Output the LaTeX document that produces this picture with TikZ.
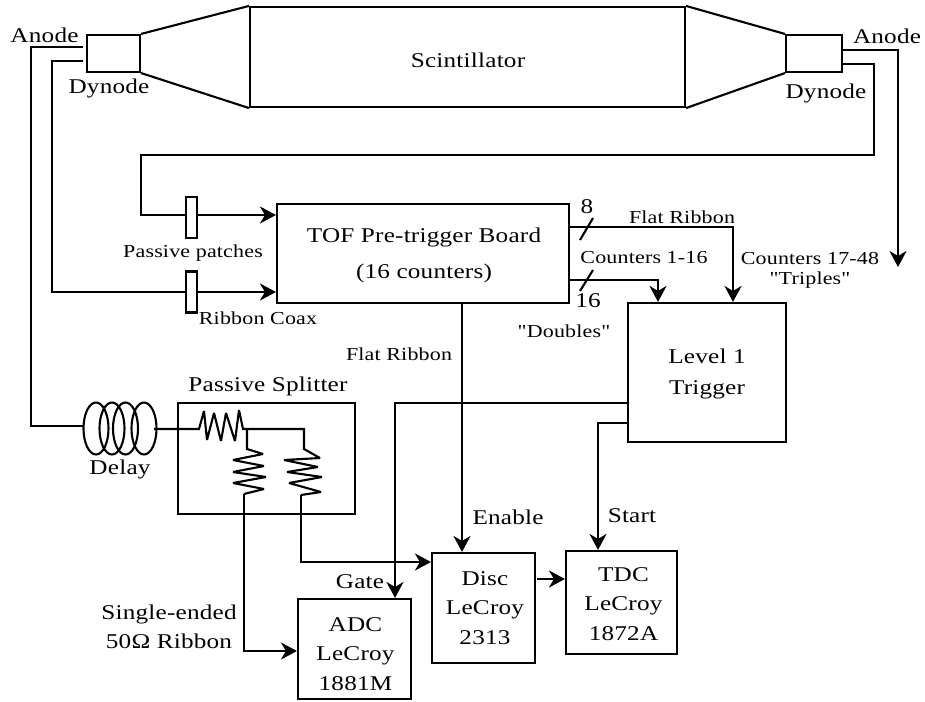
\documentclass[tikz,border=0pt]{standalone}
\usepackage{fontspec}
\setmainfont{Liberation Serif}
\newfontfamily\wideserif[FakeStretch=1.2,LetterSpace=1]{Liberation Serif}
\usetikzlibrary{arrows.meta}
\tikzset{
 x=1pt,y=-1pt,
 ln/.style={line width=2.1pt,line join=miter},
 arr/.style={ln,-{Stealth[length=16pt,width=17pt,inset=5pt]}},
 box/.style={draw,line width=2.1pt,inner sep=0pt,align=center,font=\wideserif\fontsize{21}{29.5}\selectfont},
 boxtext/.style={inner sep=0pt,align=center,font=\wideserif\fontsize{21}{29.5}\selectfont},
 lab/.style={inner sep=0pt,align=center,font=\wideserif\fontsize{21}{25}\selectfont},
 smlab/.style={inner sep=0pt,align=center,font=\wideserif\fontsize{18.3}{20}\selectfont},
 patch/.style={draw,line width=2.1pt,fill=white,minimum width=11pt,minimum height=41pt,inner sep=0pt},
}
\begin{document}
\begin{tikzpicture}
\useasboundingbox (0,0) rectangle (925,701);
% scintillator
\node[box,minimum width=435pt,minimum height=100pt] (sc) at (467.5,57) {};
\node[boxtext] (sct) at (468,60) {Scintillator};
\node[box,minimum width=53pt,minimum height=37pt] (pl) at (113.5,53.5) {};
\node[box,minimum width=56pt,minimum height=37pt] (pr) at (814,53.5) {};
\draw[ln] (pl.north east) -- (sc.north west);
\draw[ln] (pl.south east) -- (sc.south west);
\draw[ln] (pr.north west) -- (sc.north east);
\draw[ln] (pr.south west) -- (sc.south east);
% boxes
\node[box,minimum width=292pt,minimum height=99pt] (tof) at (423,253.5) {};
\node[boxtext] (toft) at (424,255.5) {TOF Pre-trigger Board\\[7pt](16 counters)};
\node[box,minimum width=158pt,minimum height=139pt] (l1) at (707,372.5) {};
\node[boxtext] (l1t) at (707,374) {Level 1\\[2pt]Trigger};
\node[box,minimum width=113pt,minimum height=100pt] (adc) at (354.5,649) {};
\node[boxtext] (adct) at (355.5,654) {ADC\\LeCroy\\1881M};
\node[box,minimum width=103pt,minimum height=110pt] (disc) at (483.5,608) {};
\node[boxtext] (disct) at (485,608) {Disc\\LeCroy\\2313};
\node[box,minimum width=111pt,minimum height=103pt] (tdc) at (621.5,602.5) {};
\node[boxtext] (tdct) at (623.5,604) {TDC\\LeCroy\\1872A};
\node[draw,line width=2.1pt,minimum width=177pt,minimum height=111pt,inner sep=0pt] (sp) at (266.5,458.5) {};
% coordinates
\coordinate (a1) at (83,47);
\coordinate (a2) at (31,47);
\coordinate (a3) at (31,426);
\coordinate (dl) at (83,426);
\coordinate (dr) at (154,429);
\coordinate (d1) at (83,61);
\coordinate (d2) at (52,61);
\coordinate (d3) at (52,292);
\coordinate (e1) at (842,64);
\coordinate (e2) at (874,64);
\coordinate (e3) at (874,155);
\coordinate (e4) at (141,155);
\coordinate (e5) at (141,215);
\coordinate (f1) at (842,50);
\coordinate (f2) at (898,50);
\coordinate (f3) at (898,267);
% PMT lines
\draw[ln] (a1) -- (a2) -- (a3) -- (dl);
\draw[arr] (d1) -- (d2) -- (d3) -- (tof.west |- d3);
\draw[arr] (e1) -- (e2) -- (e3) -- (e4) -- (e5) -- (tof.west |- e5);
\draw[arr] (f1) -- (f2) -- (f3);
% patches
\node[patch] (p1) at (191.5,217.5) {};
\node[patch] (p2) at (191.5,292) {};
% delay coil
\foreach \cx in {96,112,125.5,144}
  \draw[ln] (\cx,428.5) ellipse [x radius=12.5pt,y radius=26pt];
\coordinate (r0) at (199,429);
\coordinate (r1) at (247,429);
\draw[ln,miter limit=3] (dr) -- (r0) -- (204,411) -- (207,440) -- (214,413) -- (221,441) -- (226,413) -- (235,441) -- (239,410) -- (243,429) -- (r1);
% resistors
\coordinate (j2) at (304,429);
\coordinate (q1) at (244,494);
\coordinate (q2) at (301,495);
\draw[ln,miter limit=3] (r1) -- (247,449) -- (263,454) -- (233,460) -- (264,466) -- (233,472) -- (266,477) -- (233,483) -- (264,489) -- (q1);
\draw[ln,miter limit=3] (r1) -- (j2) -- (304,449) -- (320,458) -- (284,460) -- (318,467) -- (287,472) -- (322,477) -- (289,483) -- (321,492) -- (q2);
% splitter outputs
\coordinate (q3) at (244,651);
\coordinate (q4) at (301,562);
\draw[arr] (q1) -- (q3) -- (adc.west |- q3);
\draw[arr] (q2) -- (q4) -- (disc.west |- q4);
% ribbons
\coordinate (u1) at (569,227);
\coordinate (u2) at (733,227);
\coordinate (u3) at (569,280);
\coordinate (u4) at (658,280);
\draw[arr] (u1) -- (u2) -- (u2 |- l1.north);
\draw[arr] (u3) -- (u4) -- (u4 |- l1.north);
\coordinate (s1) at (580,240);
\coordinate (s2) at (593,218);
\coordinate (s3) at (580,291);
\coordinate (s4) at (593,270);
\draw[ln] (s1) -- (s2);
\draw[ln] (s3) -- (s4);
\coordinate (v1) at (462,303);
\coordinate (v2) at (628,403);
\coordinate (v3) at (395,403);
\coordinate (v4) at (628,423);
\coordinate (v5) at (598,423);
\draw[arr] (v1) -- (v1 |- disc.north);
\draw[arr] (v2) -- (v3) -- (v3 |- adc.north);
\draw[arr] (v4) -- (v5) -- (v5 |- tdc.north);
\coordinate (w1) at (537,579);
\draw[arr] (w1) -- (w1 -| tdc.west);
% labels
\node[lab] (t1) at (44.5,35) {Anode};
\node[lab] (t2) at (109,88) {Dynode};
\node[lab] (t3) at (887,36) {Anode};
\node[lab] (t4) at (826,93) {Dynode};
\node[smlab] (t5) at (193,253) {Passive patches};
\node[smlab] (t6) at (258,318) {Ribbon Coax};
\node[smlab] (t7) at (399,354) {Flat Ribbon};
\node[smlab] (t8) at (682,217) {Flat Ribbon};
\node[lab] (t9) at (587,207) {8};
\node[smlab] (t10) at (644,258) {Counters 1-16};
\node[lab] (t11) at (588,301) {16};
\node[smlab] (t12) at (810,270) {Counters 17-48\\"Triples"};
\node[smlab] (t13) at (564,331) {"Doubles"};
\node[lab] (t14) at (268,386) {Passive Splitter};
\node[lab] (t15) at (120,469) {Delay};
\node[lab] (t16) at (508,517) {Enable};
\node[lab] (t17) at (632,516) {Start};
\node[lab] (t18) at (360,582) {Gate};
\node[lab] (t19) at (169,627) {Single-ended\\[4pt]50Ω Ribbon};
\end{tikzpicture}
\end{document}
